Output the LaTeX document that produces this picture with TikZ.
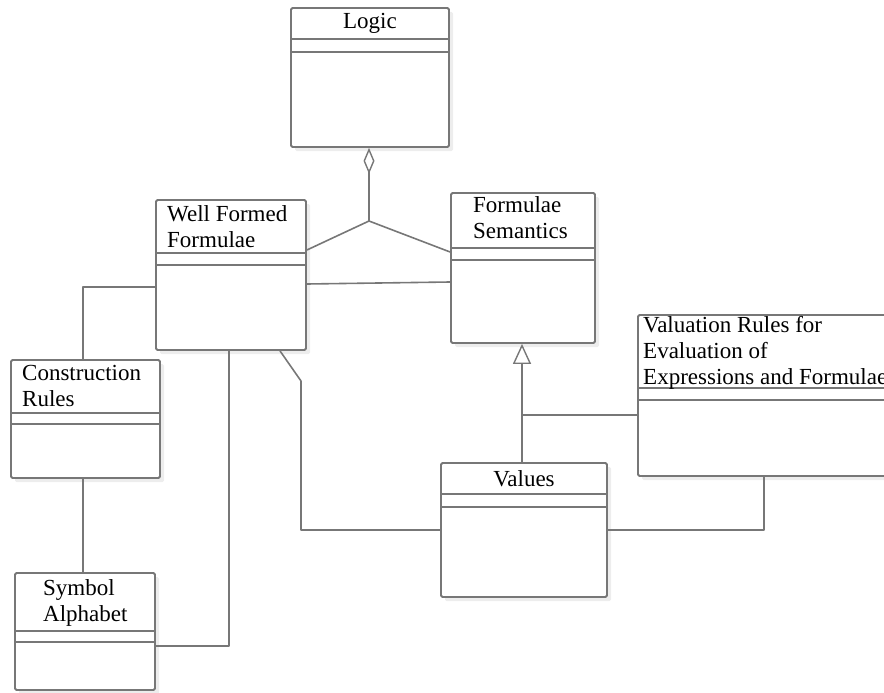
\documentclass[tikz,border=0pt]{standalone}
\usepackage{fontspec}
\setmainfont{Liberation Serif}
\usetikzlibrary{arrows.meta,fit,shadows}
\definecolor{linegray}{HTML}{777777}
\begin{document}
\begin{tikzpicture}[x=1pt,y=-1pt,
  cls/.style={draw=linegray, line width=1.8pt, rounded corners=1.5pt, fill=white, inner sep=0pt,
    drop shadow={shadow xshift=4pt, shadow yshift=-4pt, fill=black!7, opacity=1}},
  sep/.style={draw=linegray, line width=1.6pt},
  conn/.style={draw=linegray, line width=1.6pt, line join=round},
  txt/.style={font=\fontsize{23}{26}\selectfont, inner sep=0pt, align=left}]
\useasboundingbox (0,0) rectangle (884,693);
\clip (0,0) rectangle (884,693);

% class boxes
\node[cls, fit={(291,8) (449,147)}] (logic) {};
\node[cls, fit={(156,200) (306,350)}] (wff) {};
\node[cls, fit={(451,193) (595,343)}] (fs) {};
\node[cls, fit={(638,315) (910,476)}] (val) {};
\node[cls, fit={(11,360) (160,478)}] (cr) {};
\node[cls, fit={(15,573) (155,690)}] (sa) {};
\node[cls, fit={(441,463) (607,597)}] (values) {};

% compartments
\draw[sep] (logic.west |- 0,39) -- (logic.east |- 0,39);
\draw[sep] (logic.west |- 0,52) -- (logic.east |- 0,52);
\draw[sep] (wff.west |- 0,253) -- (wff.east |- 0,253);
\draw[sep] (wff.west |- 0,265) -- (wff.east |- 0,265);
\draw[sep] (fs.west |- 0,248) -- (fs.east |- 0,248);
\draw[sep] (fs.west |- 0,260) -- (fs.east |- 0,260);
\draw[sep] (val.west |- 0,388) -- (val.east |- 0,388);
\draw[sep] (val.west |- 0,400) -- (val.east |- 0,400);
\draw[sep] (cr.west |- 0,413) -- (cr.east |- 0,413);
\draw[sep] (cr.west |- 0,424) -- (cr.east |- 0,424);
\draw[sep] (sa.west |- 0,631) -- (sa.east |- 0,631);
\draw[sep] (sa.west |- 0,642) -- (sa.east |- 0,642);
\draw[sep] (values.west |- 0,494) -- (values.east |- 0,494);
\draw[sep] (values.west |- 0,507) -- (values.east |- 0,507);

% labels (base anchor = baseline of last line)
\node[txt, anchor=base] (tlogic) at (370,29) {Logic};
\node[txt, anchor=base west] (twff) at (167,247) {Well Formed\\Formulae};
\node[txt, anchor=base west] (tfs) at (473,238) {Formulae\\Semantics};
\node[txt, anchor=base west] (tval) at (643,384) {Valuation Rules for\\Evaluation of\\Expressions and Formulae};
\node[txt, anchor=base west] (tcr) at (22,406) {Construction\\Rules};
\node[txt, anchor=base west] (tsa) at (43,621) {Symbol\\Alphabet};
\node[txt, anchor=base] (tvalues) at (524,486) {Values};

% junction points
\coordinate (j1) at (369,221);
\coordinate (j2) at (522,415);

% aggregation
\draw[conn, {Diamond[open, width=11pt, length=26pt, line width=1.4pt]}-] (logic.south -| j1) -- (j1);
\draw[conn] (j1) -- (wff.east |- 0,250);
\draw[conn] (j1) -- (fs.west |- 0,252);

% association WFF - FS
\draw[conn] (wff.east |- 0,284) -- (fs.west |- 0,282);

% WFF - Construction Rules
\draw[conn] (wff.west |- 0,287) -| (cr.north -| 83,0);

% Construction Rules - Symbol Alphabet
\draw[conn] (cr.south -| 83,0) -- (sa.north -| 83,0);

% Symbol Alphabet - WFF
\draw[conn] (sa.east |- 0,646) -| (wff.south -| 229,0);

% WFF - Values
\draw[conn] (wff.south -| 280,0) -- (301,381) |- (values.west |- 0,530);

% generalization Values -> Formulae Semantics
\draw[conn, {Triangle[open, width=18pt, length=20pt, line width=1.4pt]}-] (fs.south -| j2) -- (values.north -| j2);
\draw[conn] (val.west |- j2) -- (j2);

% Values - Valuation
\draw[conn] (values.east |- 0,530) -| (val.south -| 764,0);
\end{tikzpicture}
\end{document}
